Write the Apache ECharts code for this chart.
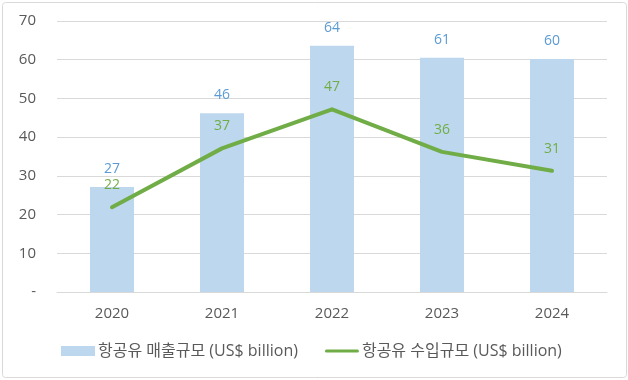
<!DOCTYPE html>
<html><head><meta charset="utf-8">
<script src="https://cdn.jsdelivr.net/npm/echarts@6/dist/echarts.min.js"></script>
<style>html,body{margin:0;padding:0;background:#fff}#c{width:628px;height:380px}</style>
</head><body><div id="c"></div>
<script>
const categories = ['2020','2021','2022','2023','2024'];
const salesValues = [27.1, 46.2, 63.6, 60.5, 60.2];
const importValues = [21.9, 37.1, 47.2, 36.2, 31.3];
const seriesNames = ['항공유 매출규모 (US$ billion)', '항공유 수입규모 (US$ billion)'];
const yTicks = [0, 10, 20, 30, 40, 50, 60, 70];

const font = '"Open Sans", "Noto Sans CJK KR", sans-serif';
const chart = echarts.init(document.getElementById('c'));
chart.setOption({
  animation: false,
  textStyle: { fontFamily: font },
  graphic: [{
    type: 'rect', silent: true, z: -1,
    shape: { x: 2.5, y: 2.5, width: 624, height: 375, r: 3 },
    style: { fill: 'none', stroke: '#d9d9d9', lineWidth: 1 }
  }],
  grid: { left: 57, right: 21, top: 21, bottom: 88 },
  legend: {
    bottom: 16, left: 56, itemGap: 27, itemWidth: 34, itemHeight: 10,
    textStyle: { fontSize: 16, color: '#595959', fontFamily: font, padding: [0, 0, 0, -2] },
    data: [
      { name: seriesNames[0], icon: 'rect' },
      { name: seriesNames[1], icon: 'path://M0,0 M34,10 M1.5,3.5 L32.5,3.5 A1.5,1.5 0 0 1 32.5,6.5 L1.5,6.5 A1.5,1.5 0 0 1 1.5,3.5 Z',
        itemStyle: { color: '#70AD47' } }
    ]
  },
  xAxis: {
    type: 'category', data: categories,
    axisLine: { lineStyle: { color: '#d9d9d9' } },
    axisTick: { show: false },
    axisLabel: { color: '#595959', fontSize: 15, margin: 14 }
  },
  yAxis: {
    type: 'value', min: yTicks[0], max: yTicks[yTicks.length - 1], interval: 10,
    axisLine: { show: false }, axisTick: { show: false },
    splitLine: { lineStyle: { color: '#d9d9d9' } },
    axisLabel: { color: '#595959', fontSize: 15, margin: 21, formatter: v => v === 0 ? '-' : String(v) }
  },
  series: [
    {
      name: seriesNames[0], type: 'bar', data: salesValues, barWidth: '40%',
      itemStyle: { color: '#BDD7EE' },
      label: { show: true, position: 'top', distance: 11, color: '#5B9BD5', fontSize: 14,
        formatter: p => Math.round(p.value) }
    },
    {
      name: seriesNames[1], type: 'line', data: importValues, symbol: 'circle', symbolSize: 0,
      showSymbol: true,
      lineStyle: { color: '#70AD47', width: 4, cap: 'round', join: 'round' }, itemStyle: { color: '#70AD47' },
      label: { show: true, position: 'top', distance: 15, color: '#70AD47', fontSize: 14,
        formatter: p => Math.round(p.value) }
    }
  ]
});
</script></body></html>
